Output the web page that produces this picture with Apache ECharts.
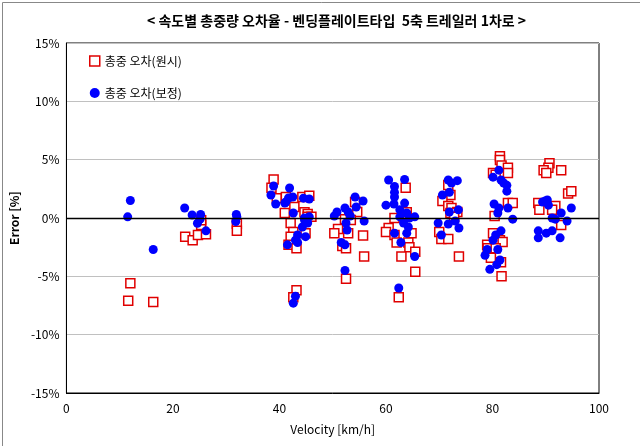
<!DOCTYPE html>
<html><head><meta charset="utf-8">
<script src="https://cdn.jsdelivr.net/npm/echarts@6/dist/echarts.min.js"></script>
<style>html,body{margin:0;padding:0;background:#fff}#c{width:640px;height:446px}</style>
</head><body><div id="c"></div>
<script>
const titleText = '< 속도별 총중량 오차율 - 벤딩플레이트타입  5축 트레일러 1차로 >';
const seriesNames = ['총중 오차(원시)', '총중 오차(보정)'];
const xTicks = [0, 20, 40, 60, 80, 100];
const yTicks = [-15, -10, -5, 0, 5, 10, 15];
// [velocity km/h, error %]
const rawErr = [
 [11.6,-7.1],[12,-5.6],[16.3,-7.2],
 [22.3,-1.6],[23.7,-1.9],[24.7,-1.45],[25.3,-0.6],[25.3,-0.2],[26.2,-1.4],[32,-0.5],[32,-1.1],
 [38.9,3.3],[38.5,2.6],[39.5,1.7],[41,0.43],[41.2,1.8],[42.8,0.94],[44.3,1.8],[45.6,1.9],[44.7,0.5],[45.3,0.34],
 [42.1,-0.43],[42.6,-1.2],[42.1,-1.6],[41.7,-2.3],[43.2,-2.6],[44.9,-1.3],[43.2,-6.2],[42.6,-6.8],[45.3,0.1],[46,0.1],
 [54.2,1.37],[54.6,0.51],[52.3,-0.1],[53.4,-0.17],[51,-0.94],[50.3,-1.3],[52.9,-1.3],[55.7,-1.5],[51.8,-2.4],[52.5,-2.6],[55.9,-3.3],[52.5,-5.2],
 [63.7,2.6],[61.6,0],[63.9,0.5],[60.5,-0.86],[60,-1.2],[61.6,-1.46],[64.8,-1.3],[62,-2.1],[64.2,-2.1],[64.4,-2.5],[65.5,-2.9],[62.9,-3.3],[65.5,-4.6],[62.4,-6.8],
 [71.7,2.83],[72.1,1.97],[70.6,1.46],[71.7,1.03],[72.3,0.86],[73.4,0.51],[72.1,0.43],[70,-1.2],[70.4,-1.8],[71.7,-1.8],[73.7,-3.3],[72.8,0.1],
 [81.4,5.3],[81.4,4.97],[81.7,4.5],[82.9,4.3],[82.9,3.86],[80.1,3.86],[80.6,3.7],[82.9,1.28],[83.8,1.28],[80.4,0.17],[80.1,-1.3],[81.4,-1.9],[81.9,-2.05],
 [79,-2.3],[79.1,-2.6],[80.6,-2.6],[79.7,-3.4],[81.6,-3.8],[81.7,-5.0],
 [90.7,4.7],[90.5,4.3],[89.6,4.1],[90.1,3.86],[92.9,4.1],[94.2,2.1],[94.8,2.3],[88.6,1.28],[88.8,0.7],[91.8,1.03],[91.2,0.7],[92.9,-0.6]
];
const corrErr = [
 [11.5,0.1],[12,1.5],[16.3,-2.7],
 [22.2,0.86],[23.6,0.26],[25.2,0.3],[25.1,-0.1],[24.6,-0.45],[26.2,-1.1],[31.9,0.3],[32,0.1],[31.8,-0.3],
 [38.9,2.74],[38.4,1.97],[41.9,2.57],[39.3,1.2],[41.2,1.37],[41.7,1.71],[42.5,1.8],[41,1.28],[42.6,0.43],[44.5,1.7],[45.6,1.63],
 [44.7,0],[45.3,-0.43],[44.3,-0.77],[44.9,-1.6],[43.4,-1.46],[43,-1.9],[41.5,-2.3],[43.4,-2.1],[43,-6.7],[42.6,-7.3],[44.7,-0.17],[45.6,0.1],
 [54.2,1.8],[55.7,1.46],[54.4,0.94],[50.8,0.51],[50.3,0.17],[52.3,0.86],[52.9,0.51],[53.3,0.17],[52.5,-0.43],[55.9,-0.26],[52.7,-1.03],[51.6,-2.1],[52.3,-2.3],[52.3,-4.5],
 [60.5,3.26],[63.5,3.3],[61.6,2.7],[61.6,2.2],[61.6,1.8],[60,1.1],[61.5,1.2],[63.5,1.28],[62.6,0.7],[62.6,0.1],[63.9,0.43],[64.4,0],[65.4,0.1],
 [63.3,-0.43],[64.2,-0.77],[61.6,-1.3],[63.9,-1.3],[62.8,-2.1],[65.4,-3.3],[62.4,-6.0],
 [71.7,3.26],[72.3,3.0],[73.4,3.2],[71.9,2.2],[70.6,1.97],[71.9,0.51],[73.6,0.7],[69.8,-0.43],[71.7,-0.51],[73,-0.26],[73.7,-0.86],[70.4,-1.46],
 [81.2,4.1],[80.1,3.5],[81.6,3.26],[82.1,3.0],[82.7,2.8],[82.7,2.3],[80.3,1.2],[81.2,0.86],[82.9,0.86],[81,0.43],[83.8,-0.1],
 [81.6,-1.1],[80.6,-1.46],[80.1,-1.9],[79,-2.7],[78.6,-3.2],[81,-2.7],[81.4,-3.6],[80.8,-4.0],[79.5,-4.4],
 [89.9,1.46],[90.3,1.54],[90.5,1.1],[89.4,1.37],[92.9,0.43],[94.8,0.86],[91.2,0],[91.8,-0.1],[94,-0.26],[88.6,-1.1],[88.6,-1.7],[90.1,-1.3],[91.2,-1.1],[92.7,-1.7]
];

const FONT = '"Noto Sans CJK KR", "Noto Sans", sans-serif';
const chart = echarts.init(document.getElementById('c'), null, {renderer: 'canvas'});
chart.setOption({
  animation: false,
  backgroundColor: '#fff',
  textStyle: {fontFamily: FONT},
  title: {
    text: titleText, left: 142, top: 9,
    textStyle: {fontSize: 14, fontWeight: 'bold', color: '#000', fontFamily: FONT}
  },
  graphic: [{type: 'rect', left: 0, top: 0, shape: {width: 639, height: 445}, style: {fill: 'none', stroke: '#888', lineWidth: 1}, silent: true}],
  legend: {
    orient: 'vertical', left: 84, top: 50, itemGap: 20, itemWidth: 10, itemHeight: 10,
    textStyle: {fontSize: 12, color: '#000', fontFamily: FONT},
    data: [
      {name: seriesNames[0], icon: 'rect', itemStyle: {color: '#fff', borderColor: '#e00000', borderWidth: 1.5, opacity: 1}},
      {name: seriesNames[1], icon: 'circle', itemStyle: {color: '#0000ff', opacity: 1}}
    ]
  },
  grid: {left: 62, right: 41, top: 43, bottom: 53, show: true, borderColor: '#000', borderWidth: 1, backgroundColor: 'transparent'},
  xAxis: {
    type: 'value', min: xTicks[0], max: xTicks[xTicks.length-1], interval: 20,
    name: 'Velocity [km/h]', nameLocation: 'middle', nameGap: 30,
    nameTextStyle: {fontSize: 12, color: '#000', fontFamily: FONT},
    axisLine: {show: true, onZero: false, lineStyle: {color: '#000'}},
    axisTick: {show: false},
    splitLine: {show: false},
    axisLabel: {fontSize: 12, color: '#000', margin: 9, fontFamily: FONT}
  },
  yAxis: {
    type: 'value', min: yTicks[0], max: yTicks[yTicks.length-1], interval: 5,
    name: 'Error [%]', nameLocation: 'middle', nameGap: 40, nameRotate: 90,
    nameTextStyle: {fontSize: 12, color: '#000', fontWeight: 'bold', fontFamily: FONT},
    axisLine: {show: true, onZero: false, lineStyle: {color: '#000'}},
    axisTick: {show: false},
    splitLine: {show: true, lineStyle: {color: '#c0c0c0', width: 1}},
    axisLabel: {fontSize: 12, color: '#000', margin: 7, formatter: v => v + '%', fontFamily: FONT}
  },
  series: [
    {
      name: seriesNames[0], type: 'scatter', data: rawErr,
      symbol: 'rect', symbolSize: 9,
      itemStyle: {color: '#fff', borderColor: '#e00000', borderWidth: 1.5, opacity: 1},
      markLine: {
        silent: true, symbol: ['none','none'], label: {show: false},
        lineStyle: {color: '#000', width: 1.3, type: 'solid'},
        data: [{yAxis: 0}]
      },
      z: 2
    },
    {
      name: seriesNames[1], type: 'scatter', data: corrErr,
      symbol: 'circle', symbolSize: 9,
      itemStyle: {color: '#0000ff', opacity: 1},
      z: 3
    }
  ]
});
</script></body></html>
